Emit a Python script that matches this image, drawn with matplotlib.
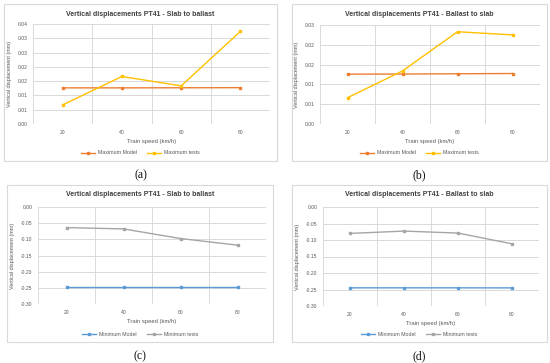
import matplotlib
matplotlib.use("Agg")
import matplotlib.pyplot as plt
from matplotlib.patches import Rectangle

plt.rcParams['font.family'] = ['Liberation Sans', 'DejaVu Sans']

speeds = ["20", "40", "60", "80"]

# (a) Slab to ballast - maxima
a_model = [0.01265, 0.01265, 0.01268, 0.01272]
a_tests = [0.00667, 0.01663, 0.01335, 0.0324]
a_yticks = [0.0, 0.005, 0.01, 0.015, 0.02, 0.025, 0.03, 0.035]
a_ylabels = ["0.00", "0.01", "0.01", "0.02", "0.02", "0.03", "0.03", "0.04"]

# (b) Ballast to slab - maxima
b_model = [0.01258, 0.01262, 0.01268, 0.01275]
b_tests = [0.00663, 0.0134, 0.0233, 0.0225]
b_yticks = [0.0, 0.005, 0.01, 0.015, 0.02, 0.025]
b_ylabels = ["0.00", "0.01", "0.01", "0.02", "0.02", "0.03"]

# (c) Slab to ballast - minima
c_model = [-0.2464, -0.2464, -0.2464, -0.2464]
c_tests = [-0.0637, -0.0678, -0.0975, -0.118]
# (d) Ballast to slab - minima
d_model = [-0.2450, -0.2450, -0.2450, -0.2452]
d_tests = [-0.080, -0.073, -0.079, -0.1116]
cd_yticks = [0.0, -0.05, -0.10, -0.15, -0.20, -0.25, -0.30]
cd_ylabels = ["0.00", "-0.05", "-0.10", "-0.15", "-0.20", "-0.25", "-0.30"]

W, H = 550, 363
fig = plt.figure(figsize=(5.5, 3.63), dpi=100)

TXT = "#595959"
GRID = "#D9D9D9"

def frac_rect(x0, y0, x1, y1):
    return [x0 / W, 1 - y1 / H, (x1 - x0) / W, (y1 - y0) / H]

panels = [
    dict(box=(4, 4, 277, 161), plot=(33, 24, 270, 124), title="Vertical displacements PT41 - Slab to ballast",
         s1=a_model, s2=a_tests, n1="Maximum Model", n2="Maximum tests", c1="#ED7D31", c2="#FFC000",
         yt=a_yticks, yl=a_ylabels, cap="(a)"),
    dict(box=(292, 4, 547, 161), plot=(320, 25, 540, 124), title="Vertical displacements PT41 - Ballast to slab",
         s1=b_model, s2=b_tests, n1="Maximum Model", n2="Maximum tests", c1="#ED7D31", c2="#FFC000",
         yt=b_yticks, yl=b_ylabels, cap="(b)"),
    dict(box=(7, 185, 273, 342), plot=(38, 207, 266, 304), title="Vertical displacements PT41 - Slab to ballast",
         s1=c_model, s2=c_tests, n1="Minimum Model", n2="Minimum tests", c1="#5B9BD5", c2="#A5A5A5",
         yt=cd_yticks, yl=cd_ylabels, cap="(c)"),
    dict(box=(292, 185, 547, 342), plot=(323, 207, 539, 306), title="Vertical displacements PT41 - Ballast to slab",
         s1=d_model, s2=d_tests, n1="Minimum Model", n2="Minimum tests", c1="#5B9BD5", c2="#A5A5A5",
         yt=cd_yticks, yl=cd_ylabels, cap="(d)"),
]

for p in panels:
    bx0, by0, bx1, by1 = p["box"]
    fig.patches.append(Rectangle((bx0 / W, 1 - by1 / H), (bx1 - bx0) / W, (by1 - by0) / H,
                                 transform=fig.transFigure, fill=False, edgecolor="#D9D9D9", lw=0.8))
    px0, py0, px1, py1 = p["plot"]
    ax = fig.add_axes(frac_rect(px0, py0, px1, py1))
    x = list(range(len(speeds)))
    ax.plot(x, p["s1"], color=p["c1"], lw=1.0, marker="s", ms=2.0, label=p["n1"], zorder=3)
    ax.plot(x, p["s2"], color=p["c2"], lw=1.0, marker="s", ms=2.0, label=p["n2"], zorder=3)
    ax.set_xlim(-0.5, len(speeds) - 0.5)
    yt = p["yt"]
    ax.set_ylim(min(yt), max(yt))
    ax.set_yticks(yt)
    ax.set_yticklabels(p["yl"])
    ax.set_xticks(x)
    ax.set_xticklabels(speeds)
    ax.set_xticks([i - 0.5 for i in range(len(speeds) + 1)], minor=True)
    ax.grid(False)
    ax.grid(True, axis="y", which="major", color=GRID, lw=0.7)
    ax.grid(True, axis="x", which="minor", color=GRID, lw=0.7)
    for s in ax.spines.values():
        s.set_visible(False)
    ax.tick_params(axis="both", which="both", length=0, labelsize=3.6, colors=TXT, pad=4)
    ax.set_xlabel("Train speed (km/h)", fontsize=4.2, color=TXT, labelpad=3)
    ax.set_ylabel("Vertical displacement (mm)", fontsize=4.0, color=TXT, labelpad=4)
    cx = (bx0 + bx1) / 2
    fig.text(cx / W, 1 - (by0 + 10) / H, p["title"], ha="center", va="center",
             fontsize=5.0, fontweight="bold", color="#404040")
    leg = fig.legend(handles=ax.get_lines(), loc="center", bbox_to_anchor=(cx / W, 1 - (by1 - 8) / H),
                     ncol=2, frameon=False, fontsize=3.8, handlelength=2.6, columnspacing=2.0,
                     handletextpad=0.6, markerscale=0.9)
    for t in leg.get_texts():
        t.set_color(TXT)
    fig.text(cx / W, 1 - (by1 + 14) / H, p["cap"], ha="center", va="center",
             fontsize=8.5, family=["Liberation Serif", "DejaVu Serif"], color="#111111")

fig.savefig("out.png", dpi=100, facecolor="white")
